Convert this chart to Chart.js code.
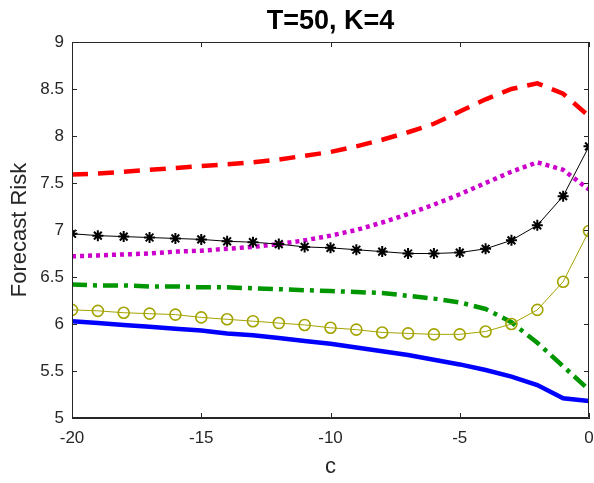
<!DOCTYPE html>
<html>
<head>
<meta charset="utf-8">
<script src="https://cdn.jsdelivr.net/npm/chart.js@4.4.1/dist/chart.umd.min.js"></script>
<style>
  body { margin: 0; background: #fff; }
  canvas { display: block; }
</style>
</head>
<body>
<canvas id="riskChart" width="594" height="483"></canvas>
<script>
// c values on the x axis
const cValues = [-20, -19, -18, -17, -16, -15, -14, -13, -12, -11, -10, -9, -8, -7, -6, -5, -4, -3, -2, -1, 0];

// series
const redDashed   = [7.59, 7.60, 7.62, 7.64, 7.66, 7.68, 7.70, 7.72, 7.75, 7.79, 7.83, 7.89, 7.96, 8.04, 8.13, 8.26, 8.39, 8.50, 8.56, 8.45, 8.21];
const magentaDot  = [6.72, 6.73, 6.74, 6.75, 6.77, 6.78, 6.80, 6.82, 6.85, 6.89, 6.94, 7.00, 7.08, 7.17, 7.27, 7.38, 7.50, 7.62, 7.72, 7.64, 7.43];
const blackStar   = [6.96, 6.94, 6.93, 6.92, 6.91, 6.90, 6.88, 6.87, 6.85, 6.82, 6.81, 6.79, 6.77, 6.75, 6.75, 6.76, 6.80, 6.89, 7.05, 7.36, 7.89];
const greenDashDot = [6.42, 6.41, 6.41, 6.40, 6.40, 6.39, 6.39, 6.38, 6.37, 6.36, 6.35, 6.34, 6.33, 6.30, 6.27, 6.23, 6.16, 6.02, 5.80, 5.55, 5.30];
const oliveCircle = [6.15, 6.14, 6.12, 6.11, 6.10, 6.07, 6.05, 6.03, 6.01, 5.99, 5.96, 5.94, 5.91, 5.90, 5.89, 5.89, 5.92, 6.00, 6.15, 6.45, 6.99];
const blueSolid   = [6.03, 6.01, 5.99, 5.97, 5.95, 5.93, 5.90, 5.88, 5.85, 5.82, 5.79, 5.75, 5.71, 5.67, 5.62, 5.57, 5.51, 5.44, 5.35, 5.21, 5.18];

const xTicks = [-20, -15, -10, -5, 0];
const yTicks = [5, 5.5, 6, 6.5, 7, 7.5, 8, 8.5, 9];

const axisColor = '#262626';
const toPoints = ys => ys.map((y, i) => ({ x: cValues[i], y: y }));

// matlab style box with inward ticks
const boxPlugin = {
  id: 'boxTicks',
  afterDraw(chart) {
    const { ctx, chartArea: a, scales } = chart;
    const len = 5;
    ctx.save();
    ctx.strokeStyle = axisColor;
    ctx.lineWidth = 1;
    ctx.beginPath();
    ctx.rect(a.left + 0.5, a.top + 0.5, a.right - a.left - 1, a.bottom - a.top - 1);
    xTicks.forEach(v => {
      const px = Math.round(scales.x.getPixelForValue(v)) + 0.5;
      ctx.moveTo(px, a.bottom); ctx.lineTo(px, a.bottom - len);
      ctx.moveTo(px, a.top); ctx.lineTo(px, a.top + len);
    });
    yTicks.forEach(v => {
      const py = Math.round(scales.y.getPixelForValue(v)) + 0.5;
      ctx.moveTo(a.left, py); ctx.lineTo(a.left + len, py);
      ctx.moveTo(a.right, py); ctx.lineTo(a.right - len, py);
    });
    ctx.stroke();
    ctx.restore();
  }
};

new Chart(document.getElementById('riskChart'), {
  type: 'line',
  data: {
    datasets: [
      {
        data: toPoints(blackStar),
        borderColor: '#000000', borderWidth: 1,
        pointStyle: 'star', pointRadius: 5.5, pointBorderWidth: 2,
        pointBorderColor: '#000000', pointBackgroundColor: '#000000'
      },
      {
        data: toPoints(oliveCircle),
        borderColor: '#a3a300', borderWidth: 1,
        pointStyle: 'circle', pointRadius: 5.5, pointBorderWidth: 1.6,
        pointBorderColor: '#a3a300', pointBackgroundColor: 'rgba(0,0,0,0)'
      },
      {
        data: toPoints(blueSolid),
        borderColor: '#0000ff', borderWidth: 4.5, pointRadius: 0
      },
      {
        data: toPoints(greenDashDot),
        borderColor: '#009600', borderWidth: 4.5, pointRadius: 0,
        borderDash: [15, 6, 4, 6]
      },
      {
        data: toPoints(magentaDot),
        borderColor: '#cc00cc', borderWidth: 4.5, pointRadius: 0,
        borderDash: [4, 4]
      },
      {
        data: toPoints(redDashed),
        borderColor: '#ff0000', borderWidth: 4.5, pointRadius: 0,
        borderDash: [16, 10]
      }
    ]
  },
  options: {
    responsive: false,
    animation: false,
    events: [],
    layout: { autoPadding: false, padding: { left: 0, right: 5, top: 0, bottom: 0 } },
    scales: {
      x: {
        type: 'linear',
        min: -20,
        max: 0,
        afterFit: s => { s.height = 65; s.paddingLeft = 0; s.paddingRight = 0; },
        grid: { drawOnChartArea: false, drawTicks: false },
        border: { display: true, color: axisColor, width: 1 },
        afterBuildTicks: s => { s.ticks = xTicks.map(v => ({ value: v })); },
        ticks: {
          color: axisColor,
          padding: 10,
          font: { family: 'Liberation Sans', size: 17 },
          maxRotation: 0,
          callback: v => String(v)
        },
        title: {
          display: true,
          text: 'c',
          color: axisColor,
          font: { family: 'Liberation Sans', size: 22 },
          padding: { top: 0, bottom: 3 }
        }
      },
      y: {
        min: 5,
        max: 9,
        afterFit: s => { s.width = 72; s.paddingTop = 0; s.paddingBottom = 0; },
        grid: { drawOnChartArea: false, drawTicks: false },
        border: { display: true, color: axisColor, width: 1 },
        afterBuildTicks: s => { s.ticks = yTicks.map(v => ({ value: v })); },
        ticks: {
          color: axisColor,
          padding: 8,
          font: { family: 'Liberation Sans', size: 17 },
          callback: v => String(v)
        },
        title: {
          display: true,
          text: 'Forecast Risk',
          color: axisColor,
          font: { family: 'Liberation Sans', size: 22 },
          padding: { top: 7, bottom: 0 }
        }
      }
    },
    plugins: {
      legend: { display: false },
      tooltip: { enabled: false },
      title: {
        display: true,
        fullSize: false,
        text: 'T=50, K=4',
        color: '#000000',
        font: { family: 'Liberation Sans', size: 27, weight: 'bold' },
        padding: { top: 5, bottom: 4.6 }
      }
    }
  },
  plugins: [boxPlugin]
});
</script>
</body>
</html>
